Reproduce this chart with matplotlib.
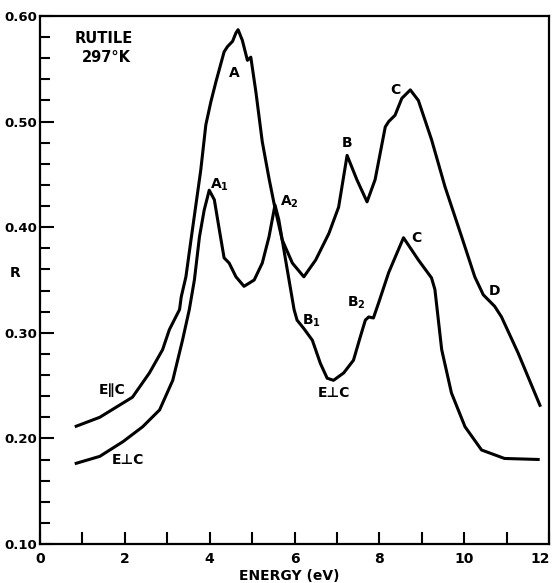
import numpy as np
import matplotlib
matplotlib.use("Agg")
import matplotlib.pyplot as plt
from matplotlib.ticker import MultipleLocator, FormatStrFormatter, FuncFormatter

# reflectivity of rutile
e_par = [0.82, 1.41, 2.18, 2.58, 2.89, 3.05, 3.29, 3.33, 3.44, 3.56, 3.79, 3.91, 4.03,
         4.15, 4.34, 4.42, 4.54, 4.62, 4.67, 4.77, 4.89, 4.97, 5.09, 5.24, 5.40, 5.54,
         5.71, 5.95, 6.22, 6.50, 6.81, 7.04, 7.24, 7.47, 7.71, 7.90, 8.14, 8.22, 8.37,
         8.53, 8.73, 8.92, 9.23, 9.55, 9.94, 10.25, 10.45, 10.72, 10.88, 11.27, 11.80]
r_par = [0.211, 0.220, 0.239, 0.262, 0.284, 0.303, 0.322, 0.334, 0.353, 0.388, 0.454, 0.497, 0.519,
         0.538, 0.566, 0.571, 0.576, 0.584, 0.587, 0.577, 0.558, 0.561, 0.528, 0.481, 0.446, 0.418,
         0.388, 0.366, 0.353, 0.369, 0.394, 0.419, 0.468, 0.445, 0.424, 0.445, 0.495, 0.500, 0.506,
         0.522, 0.530, 0.520, 0.483, 0.438, 0.391, 0.353, 0.336, 0.325, 0.315, 0.281, 0.230]

e_perp = [0.82, 1.41, 1.96, 2.42, 2.82, 3.13, 3.36, 3.52, 3.64, 3.76, 3.87, 3.99, 4.11, 4.23,
          4.34, 4.46, 4.62, 4.81, 5.05, 5.24, 5.40, 5.54, 5.63, 5.79, 5.99, 6.06, 6.22, 6.42,
          6.61, 6.77, 6.92, 7.16, 7.39, 7.55, 7.67, 7.75, 7.86, 7.98, 8.22, 8.41, 8.57, 8.92,
          9.23, 9.31, 9.47, 9.70, 10.02, 10.41, 10.95, 11.78]
r_perp = [0.176, 0.183, 0.197, 0.211, 0.227, 0.255, 0.293, 0.322, 0.350, 0.391, 0.416, 0.435, 0.426, 0.397,
          0.371, 0.366, 0.353, 0.344, 0.350, 0.366, 0.391, 0.421, 0.407, 0.369, 0.322, 0.312, 0.304, 0.293,
          0.271, 0.257, 0.255, 0.262, 0.274, 0.296, 0.312, 0.315, 0.314, 0.328, 0.357, 0.375, 0.390, 0.369,
          0.352, 0.341, 0.284, 0.243, 0.211, 0.189, 0.181, 0.180]

# peak labels
peak_text = ["A", "A$_1$", "A$_2$", "B", "C", "C", "D", "B$_1$", "B$_2$"]
peak_x = [4.58, 4.23, 5.87, 7.23, 8.37, 8.87, 10.72, 6.41, 7.46]
peak_y = [0.546, 0.440, 0.424, 0.480, 0.530, 0.390, 0.340, 0.311, 0.328]

plt.rcParams['mathtext.fontset'] = 'dejavusans'
plt.rcParams['font.weight'] = 'bold'

fig = plt.figure(figsize=(5.53, 5.83), dpi=100)
ax = fig.add_axes([0.0723, 0.0669, 0.9205, 0.9057])

lw = 2.2
ax.plot(e_par, r_par, color='black', lw=lw, solid_capstyle='butt', solid_joinstyle='round')
ax.plot(e_perp, r_perp, color='black', lw=lw, solid_capstyle='butt', solid_joinstyle='round')

xmax = 12
ax.set_xlim(0, xmax)
ax.set_ylim(0.10, 0.60)

ax.xaxis.set_major_locator(MultipleLocator(2))
ax.xaxis.set_minor_locator(MultipleLocator(1))
# last label drawn separately so it stays inside the picture
ax.xaxis.set_major_formatter(FuncFormatter(lambda v, p: '' if v >= xmax else '%d' % v))
ax.yaxis.set_major_locator(MultipleLocator(0.1))
ax.yaxis.set_minor_locator(MultipleLocator(0.02))
ax.yaxis.set_major_formatter(FormatStrFormatter('%.2f'))
ax.tick_params(axis='x', which='both', direction='in', length=9, width=1.5,
               labelsize=10, pad=6)
ax.tick_params(axis='y', which='major', direction='in', length=10, width=1.5,
               labelsize=9.5, pad=2)
ax.tick_params(axis='y', which='minor', direction='in', length=7, width=1.5)
for s in ax.spines.values():
    s.set_linewidth(1.6)

ax.annotate('%d' % xmax, xy=(xmax, 0.10), xytext=(-6, -6), textcoords='offset points',
            ha='center', va='top', fontsize=10, fontweight='bold', annotation_clip=False)

for t, x, y in zip(peak_text, peak_x, peak_y):
    ax.text(x, y, t, fontsize=10, fontweight='bold', ha='center', va='center')

ax.text(0.82, 0.579, "RUTILE", fontsize=10.5, fontweight='bold', ha='left', va='center')
ax.text(0.99, 0.561, "297°K", fontsize=10.5, fontweight='bold', ha='left', va='center')
ax.text(1.71, 0.246, "E\u2225C", fontsize=10, fontweight='bold', ha='center', va='center')
ax.text(2.07, 0.180, "E\u22a5C", fontsize=10, fontweight='bold', ha='center', va='center')
ax.text(6.92, 0.243, "E\u22a5C", fontsize=10, fontweight='bold', ha='center', va='center')

ax.set_xlabel("ENERGY (eV)", fontsize=10, fontweight='bold')
ax.xaxis.set_label_coords(0.49, -0.047)
ax.set_ylabel("R", fontsize=10, fontweight='bold', rotation=0)
ax.yaxis.set_label_coords(-0.048, 0.5)

fig.savefig("out.png", dpi=100)
